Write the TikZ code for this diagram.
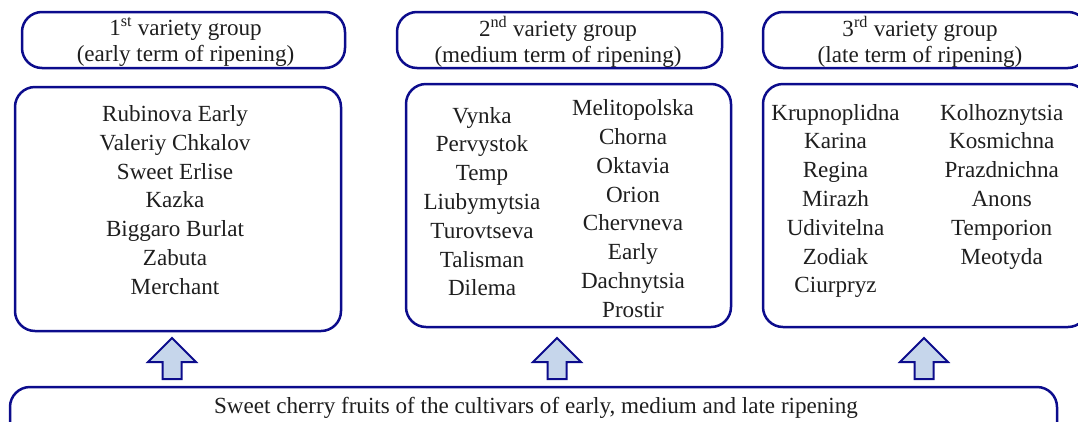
\documentclass[tikz,border=0pt]{standalone}
\usepackage{fontspec}
\setmainfont{Liberation Serif}
\definecolor{bordercol}{RGB}{12,12,140}
\definecolor{textcol}{RGB}{30,30,30}
\definecolor{arrowfill}{RGB}{198,214,235}
\tikzset{
  box/.style={draw=bordercol, line width=2.5pt, rounded corners=20pt, inner sep=0pt},
  hdtxt/.style={text=textcol, align=center, inner sep=0pt, font=\fontsize{23.1}{26}\selectfont},
  listtxt/.style={text=textcol, align=center, inner sep=0pt, font=\fontsize{23.1}{28.8}\selectfont},
  blockarrow/.style={draw=bordercol, fill=arrowfill, line width=2pt, line join=miter}
}
\begin{document}
\begin{tikzpicture}[x=1pt,y=-1pt]
\useasboundingbox (0,0) rectangle (1078,421);
\clip (0,0) rectangle (1078,421);
% header boxes
\node[box, minimum width=323pt, minimum height=56pt] (g1) at (183.5,40) {};
\node[box, minimum width=325pt, minimum height=56pt] (g2) at (559.5,40) {};
\node[box, minimum width=325pt, minimum height=56pt] (g3) at (925.5,40) {};
\node[hdtxt] (g1t) at (185.5,42) {1\textsuperscript{st} variety group\\(early term of ripening)};
\node[hdtxt] (g2t) at (558,42) {2\textsuperscript{nd} variety group\\(medium term of ripening)};
\node[hdtxt] (g3t) at (920,42) {3\textsuperscript{rd} variety group\\(late term of ripening)};
% list boxes
\node[box, minimum width=326pt, minimum height=244pt] (m1) at (178,209) {};
\node[box, minimum width=325pt, minimum height=243pt] (m2) at (568.5,205.5) {};
\node[box, minimum width=325pt, minimum height=243pt] (m3) at (925.5,205.5) {};
\node[listtxt] (m1t) at (175,200) {Rubinova Early\\Valeriy Chkalov\\Sweet Erlise\\Kazka\\Biggaro Burlat\\Zabuta\\Merchant};
\node[listtxt] (m2l) at (482,201.5) {Vynka\\Pervystok\\Temp\\Liubymytsia\\Turovtseva\\Talisman\\Dilema};
\node[listtxt] (m2r) at (633,208.5) {Melitopolska\\Chorna\\Oktavia\\Orion\\Chervneva\\Early\\Dachnytsia\\Prostir};
\node[listtxt] (m3l) at (835.5,201) {Krupnoplidna\\Karina\\Regina\\Mirazh\\Udivitelna\\Zodiak\\Ciurpryz};
\node[listtxt] (m3r) at (1001.7,186.5) {Kolhoznytsia\\Kosmichna\\Prazdnichna\\Anons\\Temporion\\Meotyda};
% bottom box
\node[box, minimum width=1047pt, minimum height=56pt] (base) at (533.5,415) {};
\node[listtxt] (baset) at (536,408) {Sweet cherry fruits of the cultivars of early, medium and late ripening};
% block arrows
\foreach \c in {172,557,924}{
  \draw[blockarrow] (\c,338) -- (\c+24,362) -- (\c+9.5,362) -- (\c+9.5,379) -- (\c-9.5,379) -- (\c-9.5,362) -- (\c-24,362) -- cycle;
}
\end{tikzpicture}
\end{document}
